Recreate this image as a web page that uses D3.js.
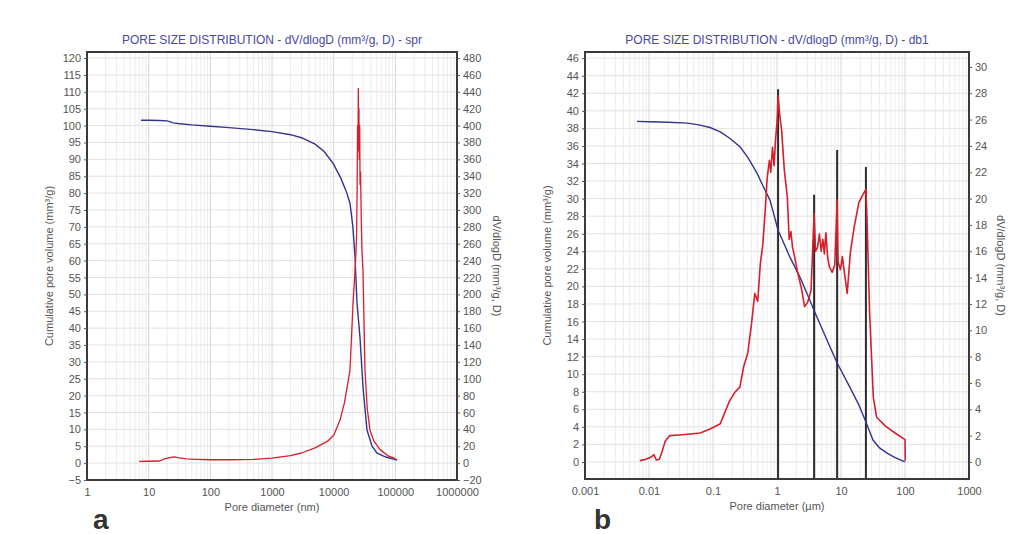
<!DOCTYPE html>
<html>
<head>
<meta charset="utf-8">
<script src="https://cdn.jsdelivr.net/npm/d3@7"></script>
<style>
  body { margin: 0; background: #fff; }
  svg { display: block; font-family: 'Liberation Sans', Arial, sans-serif; }
</style>
</head>
<body>
<svg width="1035" height="534"></svg>
<script>
// ---- panel a : sample spr, diameters in nm ----
const aBlueDiam = [7.5, 10, 15, 20, 25, 30, 50, 100, 200, 500, 1000, 2000, 3000, 5000, 7000, 9800, 13000, 16000, 18400, 20500, 22200, 23900, 26700, 29900, 34700, 42000, 50000, 70000, 107000]
const aBlueVol = [101.6, 101.6, 101.5, 101.4, 100.8, 100.6, 100.2, 99.8, 99.4, 98.8, 98.2, 97.3, 96.4, 94.5, 92.3, 88.8, 84.5, 80.5, 77, 70, 61, 47.4, 37.3, 22.5, 9.8, 5, 3, 1.8, 0.9]

const aRedDiam = [7, 10, 15, 18, 22, 26, 30, 40, 60, 100, 200, 500, 1000, 2000, 3000, 5000, 8000, 10000, 12700, 15000, 18400, 20600, 22500, 23500, 24000, 24400, 24800, 25100, 25400, 25700, 26000, 26400, 26800, 27300, 28000, 28800, 29900, 32200, 35000, 38800, 45000, 56400, 75000, 95000, 107000]
const aRedDv = [2, 2.2, 2.5, 5, 6.5, 7.5, 6.5, 5, 4.5, 4, 4, 4.5, 6, 9, 12, 18, 26, 33, 51, 72, 110, 189, 235, 268, 320, 400, 370, 444, 385, 420, 360, 400, 330, 345, 290, 250, 228, 110, 65, 39, 26, 16, 9, 6, 3.7]

const aXTicks = [1, 10, 100, 1000, 10000, 100000, 1000000]
const aXTickLabels = ['1', '10', '100', '1000', '10000', '100000', '1000000']
const aLeftTicks = [-5, 0, 5, 10, 15, 20, 25, 30, 35, 40, 45, 50, 55, 60, 65, 70, 75, 80, 85, 90, 95, 100, 105, 110, 115, 120]
const aRightTicks = [-20, 0, 20, 40, 60, 80, 100, 120, 140, 160, 180, 200, 220, 240, 260, 280, 300, 320, 340, 360, 380, 400, 420, 440, 460, 480]

// ---- panel b : sample db1, diameters in µm ----
const bBlueDiam = [0.0065, 0.01, 0.02, 0.04, 0.06, 0.09, 0.13, 0.18, 0.264, 0.35, 0.487, 0.6, 0.778, 1.04, 1.6, 2.3, 2.94, 3.93, 6.04, 8.66, 13.8, 19, 23.7, 31.6, 40, 52.5, 70, 100]
const bBlueVol = [38.8, 38.75, 38.7, 38.6, 38.4, 38.1, 37.6, 36.9, 35.9, 34.7, 32.9, 31.5, 29.8, 26.4, 23.3, 21, 19.2, 17, 13.9, 11.3, 8.5, 6.5, 4.8, 2.5, 1.6, 1.0, 0.5, 0]

const bRedDiam = [0.0072, 0.009, 0.011, 0.012, 0.013, 0.0145, 0.016, 0.018, 0.021, 0.03, 0.04, 0.063, 0.09, 0.13, 0.18, 0.22, 0.264, 0.3, 0.35, 0.4, 0.45, 0.5, 0.55, 0.6, 0.65, 0.7, 0.76, 0.8, 0.85, 0.9, 0.95, 1.0, 1.04, 1.1, 1.18, 1.3, 1.45, 1.55, 1.65, 1.75, 1.9, 2.1, 2.4, 2.7, 3.0, 3.4, 3.8, 4.0, 4.3, 4.6, 4.9, 5.2, 5.5, 5.8, 6.2, 6.6, 7.3, 8.0, 8.7, 9.0, 9.8, 10.5, 11, 12.5, 14, 16, 19, 22, 24.5, 25.5, 28, 32, 36, 50, 70, 100, 101]
const bRedDv = [0.1, 0.2, 0.4, 0.55, 0.15, 0.2, 0.8, 1.6, 2.0, 2.05, 2.1, 2.2, 2.5, 2.9, 4.6, 5.3, 5.7, 7.2, 8.3, 10.5, 12.8, 12.2, 15.1, 16.5, 18.9, 21.5, 22.9, 22.0, 23.9, 22.5, 24.5, 25.8, 27.8, 26.4, 25.2, 22.2, 20.1, 16.9, 17.5, 16.3, 15.5, 14.4, 13.2, 11.8, 12.1, 13.0, 18.9, 16.0, 16.3, 17.3, 16.0, 16.9, 15.8, 17.4, 15.5, 14.8, 14.4, 15.0, 19.9, 15.2, 14.6, 15.6, 14.8, 12.8, 15.9, 17.8, 19.7, 20.3, 20.7, 18.4, 11.3, 4.9, 3.4, 2.7, 2.2, 1.7, 0.1]

// the dark vertical spikes in panel b
const bSpikeDiam = [1.04, 3.8, 8.7, 24.5]
const bSpikeDv = [28.3, 20.3, 23.7, 22.4]

const bXTicks = [0.001, 0.01, 0.1, 1, 10, 100, 1000]
const bXTickLabels = ['0.001', '0.01', '0.1', '1', '10', '100', '1000']
const bLeftTicks = [0, 2, 4, 6, 8, 10, 12, 14, 16, 18, 20, 22, 24, 26, 28, 30, 32, 34, 36, 38, 40, 42, 44, 46]
const bRightTicks = [0, 2, 4, 6, 8, 10, 12, 14, 16, 18, 20, 22, 24, 26, 28, 30]

const BLUE = '#34348e'
const RED = '#d61f2b'
const GREY = '#555'

let svg = d3.select('svg')

function drawPanel(cfg) {
  let g = svg.append('g')

  let x = d3.scaleLog().domain(cfg.xDomain).range([cfg.left, cfg.right])
  let yL = d3.scaleLinear().domain(cfg.yLeftDomain).range([cfg.bottom, cfg.top])
  let yR = d3.scaleLinear().domain(cfg.yRightDomain).range([cfg.bottom, cfg.top])

  // minor log grid
  let minor = []
  for (let dec = cfg.xDomain[0]; dec < cfg.xDomain[1]; dec *= 10) {
    for (let k = 1; k < 10; k++) minor.push(dec * k)
  }
  g.append('g').selectAll('line').data(minor).enter().append('line')
      .attr('x1', d => x(d)).attr('x2', d => x(d))
      .attr('y1', cfg.top).attr('y2', cfg.bottom)
      .attr('stroke', d => cfg.xTicks.some(t => Math.abs(t - d) / t < 1e-6) ? '#d6d6d6' : '#ececec')
      .attr('stroke-width', 1)

  g.append('g').selectAll('line').data(cfg.leftTicks).enter().append('line')
      .attr('x1', cfg.left).attr('x2', cfg.right)
      .attr('y1', d => yL(d)).attr('y2', d => yL(d))
      .attr('stroke', '#e2e2e2')

  // clip to the frame
  g.append('clipPath').attr('id', cfg.id + '-clip')
    .append('rect')
      .attr('x', cfg.left).attr('y', cfg.top)
      .attr('width', cfg.right - cfg.left).attr('height', cfg.bottom - cfg.top)

  let plot = g.append('g').attr('clip-path', 'url(#' + cfg.id + '-clip)')

  if (cfg.spikes) {
    plot.selectAll('line.spike').data(cfg.spikes).enter().append('line')
        .attr('class', 'spike')
        .attr('x1', d => x(d[0])).attr('x2', d => x(d[0]))
        .attr('y1', d => yR(d[1])).attr('y2', cfg.bottom)
        .attr('stroke', '#2b2b2b')
        .attr('stroke-width', 2)
  }

  let lineL = d3.line().x(d => x(d[0])).y(d => yL(d[1]))
  let lineR = d3.line().x(d => x(d[0])).y(d => yR(d[1]))

  plot.append('path')
      .datum(cfg.blue)
      .attr('d', lineL)
      .attr('fill', 'none')
      .attr('stroke', BLUE)
      .attr('stroke-width', 1.4)

  plot.append('path')
      .datum(cfg.red)
      .attr('d', lineR)
      .attr('fill', 'none')
      .attr('stroke', RED)
      .attr('stroke-width', cfg.redWidth)
      .attr('stroke-linejoin', 'round')

  // frame
  g.append('rect')
      .attr('x', cfg.left).attr('y', cfg.top)
      .attr('width', cfg.right - cfg.left).attr('height', cfg.bottom - cfg.top)
      .attr('fill', 'none')
      .attr('stroke', '#3a3a3a')
      .attr('stroke-width', 2)

  // axes
  let axL = g.append('g')
      .attr('transform', 'translate(' + cfg.left + ',0)')
      .call(d3.axisLeft(yL).tickValues(cfg.leftTicks).tickSize(3).tickPadding(3).tickFormat(d3.format('d')))
  let axR = g.append('g')
      .attr('transform', 'translate(' + cfg.right + ',0)')
      .call(d3.axisRight(yR).tickValues(cfg.rightTicks).tickSize(3).tickPadding(3).tickFormat(d3.format('d')))
  let axB = g.append('g')
      .attr('transform', 'translate(0,' + cfg.bottom + ')')
      .call(d3.axisBottom(x).tickValues(cfg.xTicks).tickSize(0).tickPadding(8)
        .tickFormat((d, i) => cfg.xTickLabels[i]))

  ;[axL, axR, axB].forEach(a => {
    a.select('.domain').remove()
    a.selectAll('line').attr('stroke', GREY)
    a.selectAll('text')
        .attr('fill', GREY)
        .attr('font-size', 11)
        .attr('font-family', "'Liberation Sans', Arial, sans-serif")
  })

  // titles
  let cx = (cfg.left + cfg.right) / 2
  let cy = (cfg.top + cfg.bottom) / 2
  g.append('text')
      .attr('x', cx).attr('y', cfg.top - 8)
      .attr('text-anchor', 'middle')
      .attr('fill', '#4848a6')
      .attr('font-size', 12)
      .text(cfg.title)

  g.append('text')
      .attr('transform', 'translate(' + (cfg.left - 34) + ',' + cy + ') rotate(-90)')
      .attr('text-anchor', 'middle')
      .attr('fill', GREY)
      .attr('font-size', 11)
      .text('Cumulative pore volume (mm\u00b3/g)')

  g.append('text')
      .attr('transform', 'translate(' + (cfg.right + cfg.rightTitleOffset) + ',' + cy + ') rotate(90)')
      .attr('text-anchor', 'middle')
      .attr('fill', GREY)
      .attr('font-size', 11)
      .text('dV/dlogD (mm\u00b3/g, D)')

  g.append('text')
      .attr('x', cx).attr('y', cfg.bottom + 31)
      .attr('text-anchor', 'middle')
      .attr('fill', GREY)
      .attr('font-size', 11)
      .text(cfg.xTitle)

  g.append('text')
      .attr('x', cfg.letterX).attr('y', 529)
      .attr('fill', '#333')
      .attr('font-size', 28)
      .attr('font-weight', 700)
      .text(cfg.letter)
}

drawPanel({
  id: 'a',
  left: 87, right: 457, top: 52, bottom: 480,
  xDomain: [1, 1000000],
  yLeftDomain: [-5, 121.8],
  yRightDomain: [-20, 487.2],
  xTicks: aXTicks, xTickLabels: aXTickLabels,
  leftTicks: aLeftTicks, rightTicks: aRightTicks,
  blue: aBlueDiam.map((d, i) => [d, aBlueVol[i]]),
  red: aRedDiam.map((d, i) => [d, aRedDv[i]]),
  redWidth: 1.3,
  title: 'PORE SIZE DISTRIBUTION  - dV/dlogD (mm\u00b3/g, D) - spr',
  xTitle: 'Pore diameter (nm)',
  rightTitleOffset: 36,
  letter: 'a', letterX: 93
})

drawPanel({
  id: 'b',
  left: 585, right: 969, top: 52, bottom: 479,
  xDomain: [0.001, 1000],
  yLeftDomain: [-1.94, 46.7],
  yRightDomain: [-1.293, 31.133],
  xTicks: bXTicks, xTickLabels: bXTickLabels,
  leftTicks: bLeftTicks, rightTicks: bRightTicks,
  blue: bBlueDiam.map((d, i) => [d, bBlueVol[i]]),
  red: bRedDiam.map((d, i) => [d, bRedDv[i]]),
  spikes: bSpikeDiam.map((d, i) => [d, bSpikeDv[i]]),
  redWidth: 1.6,
  title: 'PORE SIZE DISTRIBUTION  - dV/dlogD (mm\u00b3/g, D) - db1',
  xTitle: 'Pore diameter (\u00b5m)',
  rightTitleOffset: 28,
  letter: 'b', letterX: 594
})
</script>
</body>
</html>
